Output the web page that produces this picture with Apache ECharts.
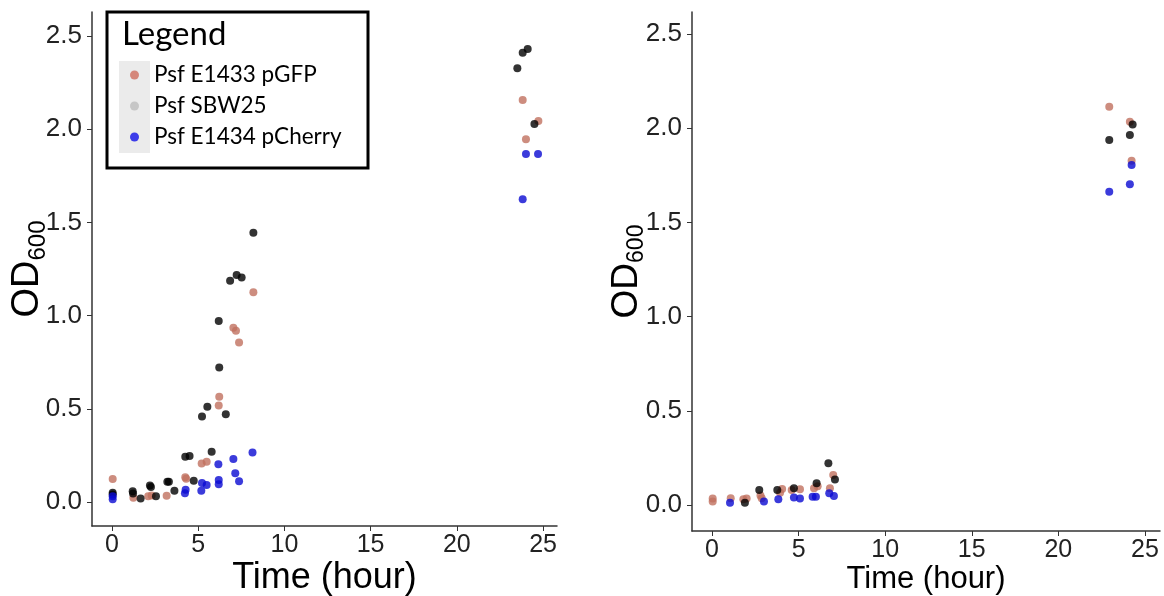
<!DOCTYPE html>
<html>
<head>
<meta charset="utf-8">
<script src="https://cdn.jsdelivr.net/npm/echarts@6/dist/echarts.min.js"></script>
<style>
html,body{margin:0;padding:0;background:#fff;}
#chart{width:1164px;height:596px;}
</style>
</head>
<body>
<div id="chart"></div>
<script>
// ---- Data (time in hours, OD600) ----
const seriesNames = ['Psf E1433 pGFP', 'Psf SBW25', 'Psf E1434 pCherry'];
const xTicks = [0, 5, 10, 15, 20, 25];
const yTicks = [0, 0.5, 1.0, 1.5, 2.0, 2.5];

// Left panel
const leftGFP = [
  [0.04,0.123],[1.24,0.022],[2.1,0.03],[2.3,0.035],[3.17,0.033],[4.25,0.132],[4.3,0.125],
  [5.2,0.207],[5.49,0.216],[6.19,0.517],[6.22,0.565],[7.04,0.935],[7.19,0.919],[7.37,0.855],
  [8.2,1.125],[23.82,2.157],[24.73,2.044],[24.01,1.946]
];
const leftSBW = [
  [0.04,0.05],[0.04,0.04],[1.2,0.057],[1.22,0.045],[1.66,0.018],[2.26,0.08],[2.2,0.088],[2.55,0.03],
  [3.21,0.108],[3.3,0.108],[3.62,0.06],[4.25,0.243],[4.5,0.247],[4.74,0.114],[5.22,0.458],
  [5.53,0.511],[5.78,0.27],[6.22,0.722],[6.19,0.971],[6.6,0.47],[6.85,1.187],[7.23,1.218],
  [7.52,1.205],[8.2,1.445],[23.51,2.327],[23.82,2.41],[24.11,2.43],[24.5,2.028]
];
const leftCherry = [
  [0.04,0.014],[0.04,0.03],[4.23,0.047],[4.27,0.066],[5.18,0.06],[5.22,0.102],[5.49,0.091],
  [6.17,0.202],[6.19,0.118],[6.19,0.095],[7.04,0.231],[7.15,0.154],[7.37,0.111],[8.15,0.266],
  [24.01,1.867],[24.71,1.867],[23.82,1.624]
];

// Right panel
const rightGFP = [
  [0.04,0.018],[0.04,0.035],[1.08,0.036],[1.81,0.03],[2.0,0.035],[2.8,0.05],[2.87,0.036],
  [3.93,0.065],[4.05,0.085],[4.6,0.08],[5.08,0.083],[5.89,0.089],[6.1,0.1],[6.81,0.089],
  [7.0,0.159],[22.94,2.114],[24.13,2.035],[24.23,1.827]
];
const rightSBW = [
  [1.9,0.012],[2.73,0.08],[3.77,0.08],[4.73,0.089],[6.04,0.115],[6.72,0.221],[7.1,0.136],
  [22.94,1.937],[24.13,1.964],[24.29,2.02]
];
const rightCherry = [
  [1.04,0.012],[3.0,0.018],[3.83,0.03],[4.73,0.04],[5.08,0.035],[5.81,0.044],[6.0,0.044],
  [6.77,0.062],[7.04,0.048],[22.94,1.663],[24.13,1.702],[24.23,1.805]
];

// ---- Styling ----
const colGFP = '#c0705f', colSBW = '#000000', colCherry = '#0a0ad2';
const FONT = '"Liberation Sans", Arial, sans-serif';
const LFONT = 'Lato, "Open Sans", sans-serif';

function xAxisCfg(gi, min, max, titleSize, gap) {
  return {
    type: 'value', gridIndex: gi, min: min, max: max,
    name: 'Time (hour)', nameLocation: 'middle', nameGap: gap, nameMoveOverlap: false,
    nameTextStyle: {fontFamily: FONT, fontSize: titleSize, color: '#000'},
    splitLine: {show: false},
    axisLine: {show: true, onZero: false, lineStyle: {color: '#333', width: 1.5}},
    axisTick: {show: true, length: 5, lineStyle: {color: '#333'}, customValues: xTicks},
    axisLabel: {fontFamily: FONT, fontSize: 25, color: '#222', margin: 7, customValues: xTicks}
  };
}
function yAxisCfg(gi, min, max, gap, fa, fb) {
  return {
    type: 'value', gridIndex: gi, min: min, max: max,
    name: '{a|OD}{b|600}', nameLocation: 'middle', nameGap: gap, nameRotate: 90, nameMoveOverlap: false,
    nameTextStyle: {
      rich: {
        a: {fontFamily: FONT, fontSize: fa, color: '#000', verticalAlign: 'bottom', padding: [0,0,3,0]},
        b: {fontFamily: FONT, fontSize: fb, color: '#000', verticalAlign: 'bottom'}
      }
    },
    splitLine: {show: false},
    axisLine: {show: true, onZero: false, lineStyle: {color: '#333', width: 1.5}},
    axisTick: {show: true, length: 5, lineStyle: {color: '#333'}, customValues: yTicks},
    axisLabel: {fontFamily: FONT, fontSize: 26, color: '#222', margin: 10, customValues: yTicks,
      formatter: v => v.toFixed(1)}
  };
}
function sc(name, data, color, idx) {
  return {
    name: name, type: 'scatter', xAxisIndex: idx, yAxisIndex: idx,
    data: data, symbol: 'circle', symbolSize: 8,
    itemStyle: {color: color}, emphasis: {disabled: true}, silent: true
  };
}

const chart = echarts.init(document.getElementById('chart'), null, {renderer: 'canvas'});
chart.setOption({
  animation: false,
  backgroundColor: '#fff',
  grid: [
    {left: 92, top: 12, width: 465, height: 514, outerBoundsMode: 'none', containLabel: false},
    {left: 692, top: 12, width: 468, height: 519, outerBoundsMode: 'none', containLabel: false}
  ],
  xAxis: [xAxisCfg(0, -1.16, 25.81, 36, 34), xAxisCfg(1, -1.155, 25.87, 31, 33)],
  yAxis: [yAxisCfg(0, -0.129, 2.629, 42, 38, 24), yAxisCfg(1, -0.138, 2.617, 44, 37, 23)],
  graphic: [
    {type: 'rect', shape: {x: 107, y: 12, width: 261, height: 156},
      style: {fill: '#fff', stroke: '#000', lineWidth: 3}, z: 10},
    {type: 'rect', shape: {x: 119, y: 61, width: 31, height: 92},
      style: {fill: '#ebebeb'}, z: 11},
    {type: 'text', left: 122, top: 18, z: 12,
      style: {text: 'Legend', fontFamily: LFONT, fontSize: 33, fill: '#000'}}
  ],
  legend: {
    orient: 'vertical', left: 130, top: 63, z: 20, padding: 0,
    itemWidth: 9, itemHeight: 9, itemGap: 7, icon: 'circle',
    textStyle: {fontFamily: LFONT, fontSize: 22.5, color: '#000', lineHeight: 24, padding: [0,0,0,10]},
    data: [
      {name: seriesNames[0], itemStyle: {color: '#cf6e5e'}},
      {name: seriesNames[1], itemStyle: {color: '#bdbdbd'}},
      {name: seriesNames[2], itemStyle: {color: '#1010e8'}}
    ]
  },
  series: [
    sc(seriesNames[0], leftGFP, colGFP, 0),
    sc(seriesNames[1], leftSBW, colSBW, 0),
    sc(seriesNames[2], leftCherry, colCherry, 0),
    sc(seriesNames[0], rightGFP, colGFP, 1),
    sc(seriesNames[1], rightSBW, colSBW, 1),
    sc(seriesNames[2], rightCherry, colCherry, 1)
  ]
});
</script>
</body>
</html>
